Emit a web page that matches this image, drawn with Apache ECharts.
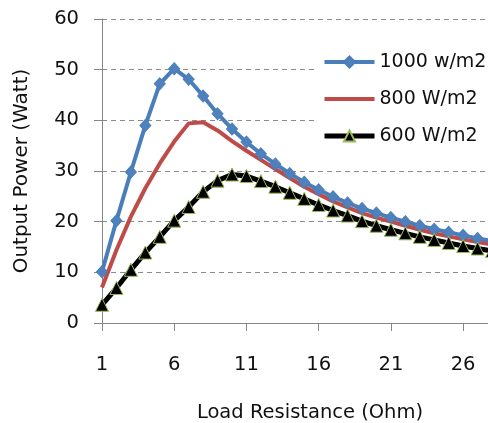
<!DOCTYPE html>
<html>
<head>
<meta charset="utf-8">
<script src="https://cdn.jsdelivr.net/npm/echarts@6/dist/echarts.min.js"></script>
<style>
html,body{margin:0;padding:0;overflow:hidden;background:#fff;width:488px;height:423px;}
#c{width:493px;height:423px;}
</style>
</head>
<body>
<div id="c"></div>
<script>
const categories = ['1','2','3','4','5','6','7','8','9','10','11','12','13','14','15','16','17','18','19','20','21','22','23','24','25','26','27','28'];
const seriesNames = ['1000 w/m2', '800 W/m2', '600 W/m2'];
const p1000 = [10.1, 20.2, 29.8, 39.0, 47.2, 50.2, 48.1, 44.8, 41.3, 38.3, 35.7, 33.4, 31.4, 29.5, 27.8, 26.3, 24.9, 23.7, 22.6, 21.7, 20.8, 20.0, 19.2, 18.5, 17.9, 17.3, 16.7, 16.2];
const p800 = [7.0, 14.4, 21.0, 26.6, 31.5, 35.8, 39.4, 39.6, 38.0, 35.9, 34.0, 32.2, 30.4, 28.6, 26.9, 25.4, 24.0, 22.8, 21.7, 20.8, 20.0, 19.2, 18.4, 17.7, 17.1, 16.5, 16.0, 15.5];
const p600 = [3.6, 6.9, 10.5, 13.9, 17.0, 20.2, 22.9, 25.9, 28.1, 29.3, 29.0, 28.0, 26.9, 25.7, 24.5, 23.3, 22.2, 21.2, 20.1, 19.2, 18.4, 17.7, 17.0, 16.4, 15.8, 15.2, 14.7, 14.2];
const yTicks = [0, 10, 20, 30, 40, 50, 60];
const xTitle = 'Load Resistance (Ohm)';
const yTitle = 'Output Power (Watt)';

const FONT = '"DejaVu Sans"';
const FS = 19.5;
const chart = echarts.init(document.getElementById('c'), null, {renderer: 'canvas'});
chart.setOption({
  animation: false,
  backgroundColor: '#fff',
  grid: {left: 102, right: 1, top: 19, bottom: 100, containLabel: false},
  legend: {
    orient: 'vertical',
    left: 317, top: 38,
    padding: [14, 10, 14, 5],
    backgroundColor: '#fff',
    itemWidth: 50, itemHeight: 14, itemGap: 17,
    lineStyle: {width: 4},
    data: [
      {name: seriesNames[0]},
      {name: seriesNames[1], itemStyle: {opacity: 0}},
      {name: seriesNames[2], lineStyle: {width: 5}}
    ],
    textStyle: {fontFamily: FONT, fontSize: 19, color: '#111', lineHeight: 20}
  },
  xAxis: {
    type: 'category',
    data: categories,
    boundaryGap: false,
    axisLine: {lineStyle: {color: '#868686', width: 1}},
    axisTick: {show: true, interval: 4, length: 8, lineStyle: {color: '#868686'}},
    axisLabel: {interval: 4, margin: 32, fontFamily: FONT, fontSize: FS, color: '#111'},
    splitLine: {show: false}
  },
  yAxis: {
    type: 'value',
    min: yTicks[0], max: yTicks[yTicks.length - 1], interval: 10,
    axisLine: {show: true, lineStyle: {color: '#868686', width: 1}},
    axisTick: {show: true, length: 8, lineStyle: {color: '#868686'}},
    axisLabel: {margin: 23, fontFamily: FONT, fontSize: FS, color: '#111'},
    splitLine: {show: true, lineStyle: {color: '#8c8c8c', type: [5, 4], width: 1}}
  },
  graphic: [
    {type: 'text', x: 310, y: 413, style: {text: xTitle, fontFamily: FONT, fontSize: FS, fill: '#111', align: 'center', verticalAlign: 'middle'}},
    {type: 'text', x: 22, y: 171, rotation: Math.PI / 2, style: {text: yTitle, fontFamily: FONT, fontSize: 20, fill: '#111', align: 'center', verticalAlign: 'middle'}}
  ],
  series: [
    {
      name: seriesNames[0], type: 'line', data: p1000,
      symbol: 'diamond', symbolSize: [11, 12], showAllSymbol: true,
      lineStyle: {color: '#4A7EBB', width: 4},
      itemStyle: {color: '#4F81BD', borderColor: '#4A7EBB', borderWidth: 1},
      emphasis: {disabled: true}
    },
    {
      name: seriesNames[1], type: 'line', data: p800,
      symbol: 'none', showSymbol: false,
      lineStyle: {color: '#BE4B48', width: 4},
      itemStyle: {color: '#BE4B48'},
      emphasis: {disabled: true}
    },
    {
      name: seriesNames[2], type: 'line', data: p600,
      symbol: 'triangle', symbolSize: 13, showAllSymbol: true,
      lineStyle: {color: '#000', width: 5},
      itemStyle: {color: '#000', borderColor: '#9BBB59', borderWidth: 1},
      emphasis: {disabled: true}
    }
  ]
});
</script>
</body>
</html>
